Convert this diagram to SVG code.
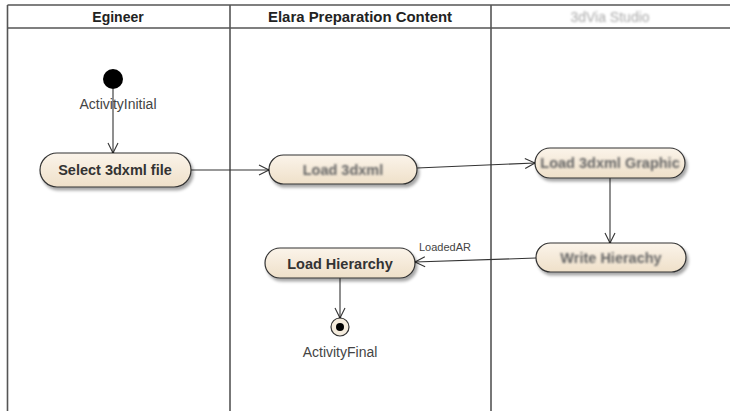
<svg xmlns="http://www.w3.org/2000/svg" width="730" height="411" viewBox="0 0 730 411">
<style>
.lane{stroke:#555;stroke-width:1.6;fill:none}
.hdr{font-family:"Liberation Sans",Arial,sans-serif;font-size:14px;font-weight:bold;fill:#222;text-anchor:middle}
.act{fill:url(#g);stroke:#333;stroke-width:1.2;filter:url(#sh)}
.lbl{font-family:"Liberation Sans",Arial,sans-serif;font-size:14.5px;font-weight:bold;fill:#333;text-anchor:middle}
.blur{filter:url(#bl);fill:#666}
.nm{font-family:"Liberation Sans",Arial,sans-serif;font-size:14px;fill:#444;text-anchor:middle}
.edge{stroke:#333;stroke-width:1.1;fill:none;marker-end:url(#ah)}
</style>
<defs>
<linearGradient id="g" x1="0" y1="0" x2="0" y2="1">
<stop offset="0" stop-color="#fbf4ea"/>
<stop offset="1" stop-color="#efe0c9"/>
</linearGradient>
<filter id="sh" x="-10%" y="-30%" width="130%" height="180%">
<feDropShadow dx="2" dy="3" stdDeviation="1.5" flood-color="#000" flood-opacity="0.35"/>
</filter>
<filter id="bl" x="-10%" y="-50%" width="120%" height="200%">
<feGaussianBlur stdDeviation="1.2"/>
</filter>
<marker id="ah" markerWidth="12" markerHeight="12" refX="10" refY="5" orient="auto" markerUnits="userSpaceOnUse" overflow="visible">
<path d="M0,0 L10,5 L0,10" fill="none" stroke="#333" stroke-width="1.1"/>
<circle cx="10" cy="5" r="1.3" fill="#111"/>
</marker>
</defs>
<rect width="730" height="411" fill="#fff"/>
<g id="lanes">
<line class="lane" x1="7.5" y1="5" x2="730" y2="5"/>
<line class="lane" x1="7.5" y1="28" x2="730" y2="28"/>
<line class="lane" x1="7.5" y1="5" x2="7.5" y2="411"/>
<line class="lane" x1="230" y1="5" x2="230" y2="411"/>
<line class="lane" x1="491" y1="5" x2="491" y2="411"/>
<text class="hdr" x="118" y="21.5">Egineer</text>
<text class="hdr" x="360" y="21.5" textLength="184" lengthAdjust="spacingAndGlyphs">Elara Preparation Content</text>
<text class="hdr blur" x="610" y="21.5" style="fill:#aaa;font-weight:normal">3dVia Studio</text>
</g>
<g id="connectors">
<line class="edge" x1="113" y1="89" x2="113" y2="153"/>
<line class="edge" x1="191" y1="170" x2="269" y2="170"/>
<line class="edge" x1="417" y1="168" x2="535" y2="163"/>
<line class="edge" x1="610" y1="178" x2="610" y2="243"/>
<line class="edge" x1="536" y1="258" x2="415" y2="262"/>
<line class="edge" x1="340" y1="278" x2="340" y2="318"/>
<text x="445" y="251" style="font-family:'Liberation Sans',Arial,sans-serif;font-size:11px;fill:#444;text-anchor:middle">LoadedAR</text>
</g>
<g id="initial">
<circle cx="113" cy="79" r="10" fill="#000"/>
<text class="nm" x="118" y="109">ActivityInitial</text>
</g>
<g id="select">
<rect class="act" x="40" y="153" width="151" height="34" rx="17"/>
<text class="lbl" x="115" y="175">Select 3dxml file</text>
</g>
<g id="load3dxml">
<rect class="act" x="269" y="155" width="148" height="29" rx="14.5"/>
<text class="lbl blur" x="343" y="174.5">Load 3dxml</text>
</g>
<g id="loadgraphic">
<rect class="act" x="535" y="148" width="150" height="30" rx="15"/>
<text class="lbl blur" x="610" y="168">Load 3dxml Graphic</text>
</g>
<g id="writehier">
<rect class="act" x="536" y="243" width="150" height="29" rx="14.5"/>
<text class="lbl blur" x="611" y="263">Write Hierachy</text>
</g>
<g id="loadhier">
<rect class="act" x="265" y="248" width="150" height="30" rx="15"/>
<text class="lbl" x="340" y="268.5">Load Hierarchy</text>
</g>
<g id="final">
<circle cx="340" cy="327" r="9" fill="#f5ecdd" stroke="#333" stroke-width="1.2"/>
<circle cx="340" cy="327" r="4" fill="#000"/>
<text class="nm" x="340" y="357">ActivityFinal</text>
</g>
</svg>
